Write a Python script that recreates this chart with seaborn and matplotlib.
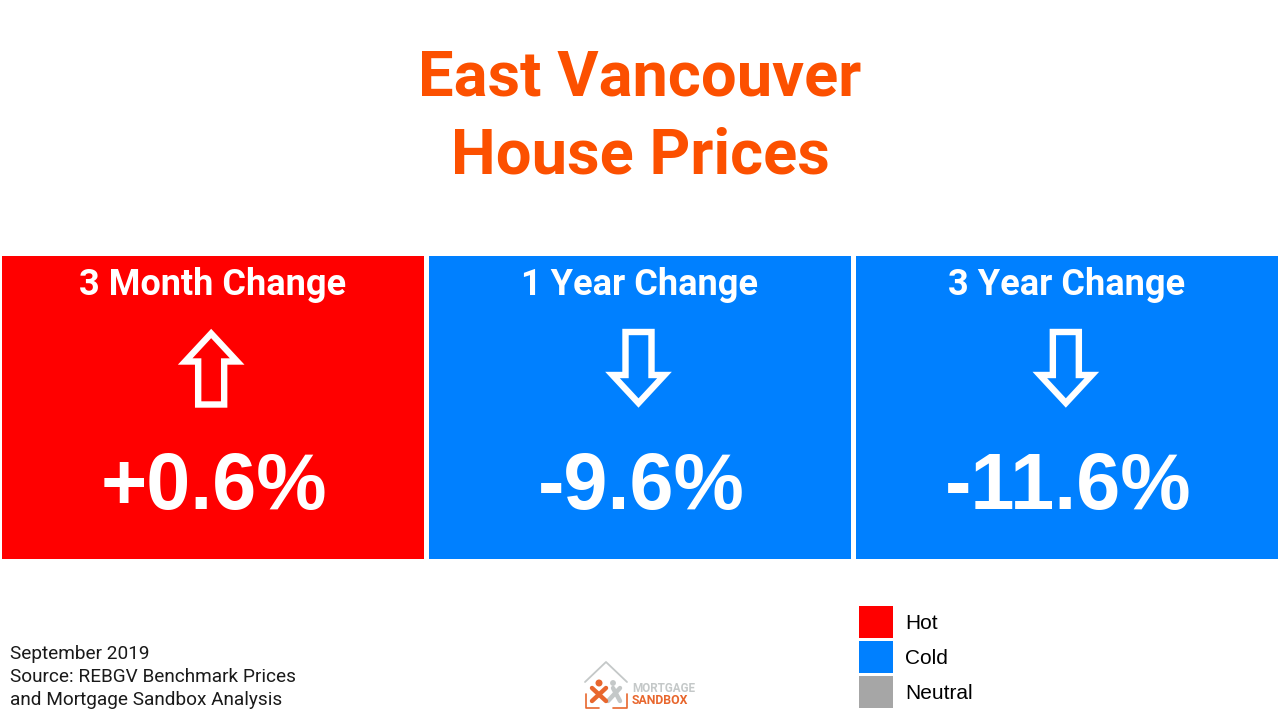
import numpy as np
import pandas as pd
import matplotlib
matplotlib.use('Agg')
import matplotlib.pyplot as plt
from matplotlib.colors import ListedColormap
from matplotlib.patches import Patch, Polygon, Circle
import seaborn as sns

# values
periods = ['3 Month Change', '1 Year Change', '3 Year Change']
changes = [0.6, -9.6, -11.6]
value_labels = ['+0.6%', '-9.6%', '-11.6%']
legend_names = ['Hot', 'Cold', 'Neutral']
legend_colors = ['#FF0000', '#0080FF', '#A6A6A6']
footer_lines = ['September 2019', 'Source: REBGV Benchmark Prices', 'and Mortgage Sandbox Analysis']

W, H = 1280, 720
ORANGE = '#FC5000'
LOGO_ORANGE = '#E8672E'
LOGO_GREY = '#C4C8C8'

sns.set_theme(style='white')
plt.rcParams['font.family'] = ['Roboto', 'DejaVu Sans']

fig = plt.figure(figsize=(W / 100, H / 100), dpi=100, facecolor='white')

# the three tiles, colour comes from the sign of the change
left, right, top, bottom = -1.5, 1280.5, 253.0, 561.0
ax = fig.add_axes([left / W, 1 - bottom / H, (right - left) / W, (bottom - top) / H])
df = pd.DataFrame([np.sign(changes)], columns=periods)
cmap = ListedColormap([legend_colors[1], legend_colors[2], legend_colors[0]])
sns.heatmap(df, ax=ax, cmap=cmap, vmin=-1.5, vmax=1.5, cbar=False,
            linewidths=2.5, linecolor='white', xticklabels=False, yticklabels=False)

# overlay in pixel coordinates for the text and the drawn bits
ov = fig.add_axes([0, 0, 1, 1], facecolor='none')
ov.set_xlim(0, W)
ov.set_ylim(H, 0)
ov.axis('off')

ov.text(640, 79, 'East Vancouver', color=ORANGE, fontsize=45.5, fontweight='bold',
        ha='center', va='center')
ov.text(640, 156, 'House Prices', color=ORANGE, fontsize=45.5, fontweight='bold',
        ha='center', va='center')

tile_w = (right - left) / 3


def arrow(cx, up):
    # outline arrow, offsets from tile centre
    pts = [(0, -33), (26, -5), (13, -5), (13, 38), (-13, 38), (-13, -5), (-26, -5)]
    mid = 366.5 if up else 370
    pts = [(cx + x, mid + (y if up else -y)) for x, y in pts]
    ov.add_patch(Polygon(pts, closed=True, fill=False, edgecolor='white', linewidth=4.6,
                         joinstyle='miter'))


for i, name in enumerate(periods):
    cx = left + tile_w * (i + 0.5)
    ov.text(cx, 285, name, color='white', fontsize=26, fontweight='bold',
            ha='center', va='center')
    arrow(cx - 1, changes[i] > 0)
    ov.text(cx + 1.5, 488, value_labels[i], color='white', fontsize=57, fontweight='bold',
            family='Liberation Sans', ha='center', va='center')

for y, line in zip([654, 677, 700], footer_lines):
    ov.text(10, y, line, color='#1a1a1a', fontsize=13.7, ha='left', va='center')

# legend
handles = [Patch(facecolor=c, edgecolor='none') for c in legend_colors]
ov.legend(handles, legend_names, loc='upper left', bbox_to_anchor=(859 / W, 1 - 606 / H),
          frameon=False, handlelength=1.63, handleheight=2.0,
          labelspacing=0.14, handletextpad=0.6, borderpad=0, borderaxespad=0,
          labelcolor='black', prop={'family': 'Liberation Sans', 'size': 15})

# logo
ov.plot([585, 606, 627], [682, 662, 682], color=LOGO_GREY, lw=1.3)
ov.plot([586, 586, 599], [694, 708, 708], color=LOGO_ORANGE, lw=1.2)
ov.plot([613, 627, 627], [708, 708, 694], color=LOGO_ORANGE, lw=1.2)
ov.plot([613, 620], [688, 701], color=LOGO_GREY, lw=3.2, solid_capstyle='round')
ov.plot([620, 608], [688, 701], color=LOGO_GREY, lw=3.2, solid_capstyle='round')
ov.plot([592, 606], [688, 701], color=LOGO_ORANGE, lw=3.2, solid_capstyle='round')
ov.plot([606, 592], [688, 701], color=LOGO_ORANGE, lw=3.2, solid_capstyle='round')
ov.add_patch(Circle((599, 683), 2.8, color=LOGO_ORANGE))
ov.add_patch(Circle((613, 683), 2.2, color=LOGO_GREY))
ov.text(632, 688, 'MORTGAGE', color=LOGO_GREY, fontsize=8.4, fontweight='bold',
        ha='left', va='center')
ov.text(632, 700, 'SANDBOX', color=LOGO_ORANGE, fontsize=8.8, fontweight='bold',
        ha='left', va='center')

fig.savefig('out.png', dpi=100, facecolor='white')
